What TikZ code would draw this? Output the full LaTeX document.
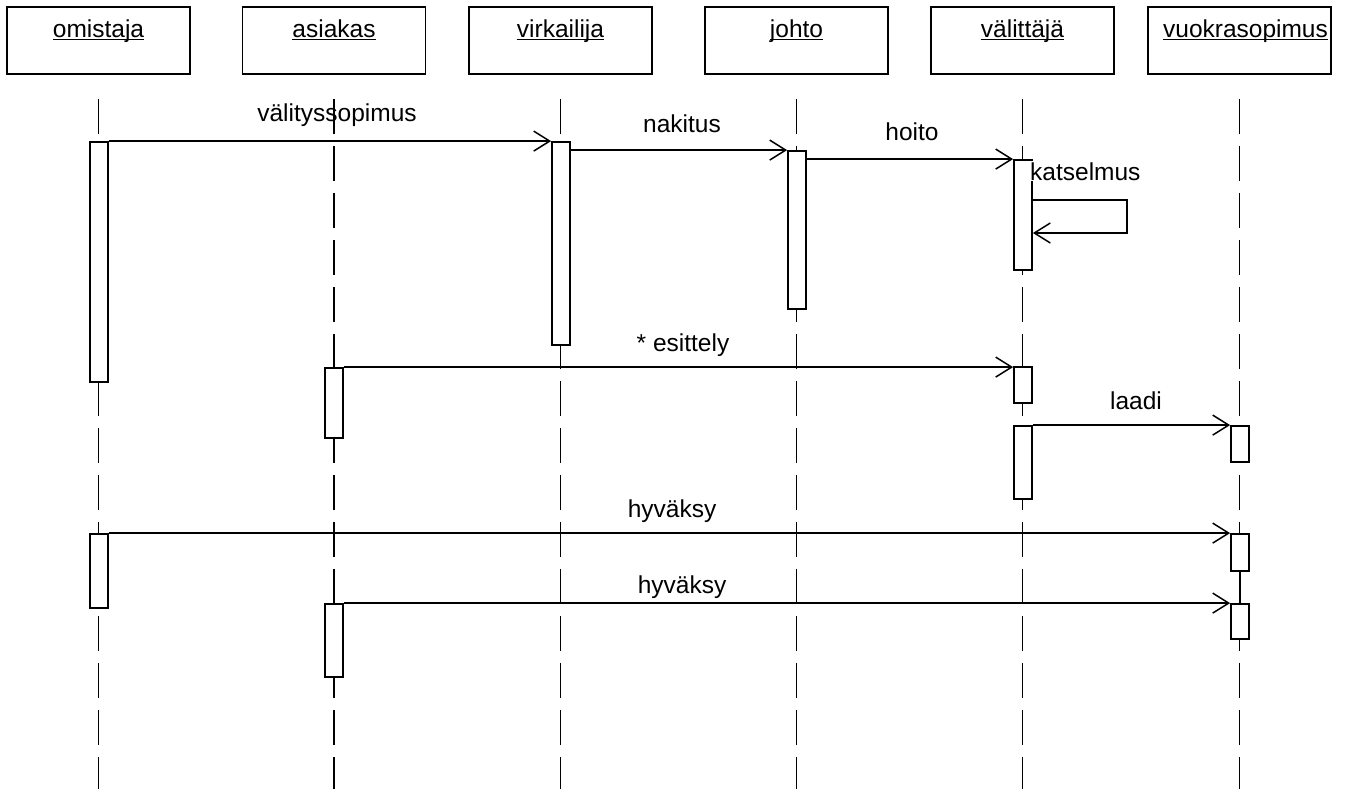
\documentclass[tikz,border=0pt]{standalone}
\usepackage{fontspec}
\setmainfont{Liberation Sans}
\usetikzlibrary{arrows.meta,calc}
\newcommand{\hdrul}[1]{\setbox0\hbox{#1}\rlap{\rule[-2.5pt]{\wd0}{1.4pt}}\box0}
\begin{document}
\begin{tikzpicture}[x=1pt,y=-1pt,
  every node/.style={font=\fontsize{24.5}{29}\selectfont},
  hdr/.style={draw,line width=1.8pt,minimum width=183pt,inner xsep=0pt,inner ysep=0pt,
    text height=30.5pt,text depth=36.5pt,anchor=center},
  lifeline/.style={line width=1.8pt,dash pattern=on 35pt off 12pt},
  act/.style={draw,fill=white,line width=1.8pt,minimum width=18pt,inner sep=0pt},
  msg/.style={line width=1.8pt,-{Straight Barb[length=16pt,width=20pt,line width=1.5pt]}},
  mlab/.style={anchor=base,inner sep=1pt}]
\useasboundingbox (0,0) rectangle (1346,789);
\fill[white] (0,0) rectangle (1346,789);
\coordinate (bot) at (0,789);
% headers
\node[hdr] (omH) at (98.5,40.5) {\hdrul{omistaja}};
\node[hdr] (asH) at (334,40.5) {\hdrul{asiakas}};
\node[hdr] (viH) at (560.5,40.5) {\hdrul{virkailija}};
\node[hdr] (joH) at (796.5,40.5) {\hdrul{johto}};
\node[hdr] (vaH) at (1022.5,40.5) {\hdrul{välittäjä}};
\node[hdr] (vuH) at (1239.5,40.5) {\hspace*{12pt}\hdrul{vuokrasopimus}};
% lifelines
\foreach \h in {omH,asH,viH,joH,vaH,vuH}
  \draw[lifeline] ([yshift=-24pt]\h.south) -- (\h.south |- bot);
% activations
\node[act,minimum height=240pt] (om1) at (99,262) {};
\node[act,minimum height=74pt] (om2) at (99,571) {};
\node[act,minimum height=70pt] (as1) at (334,403) {};
\node[act,minimum height=73pt] (as2) at (334,640.5) {};
\node[act,minimum height=203pt] (vi1) at (561,243.5) {};
\node[act,minimum height=158pt] (jo1) at (797,230) {};
\node[act,minimum height=110pt] (va1) at (1023,215) {};
\node[act,minimum height=36pt] (va2) at (1023,385) {};
\node[act,minimum height=73pt] (va3) at (1023,462.5) {};
\node[act,minimum height=36pt] (vu1) at (1240,444) {};
\node[act,minimum height=37pt] (vu2) at (1240,552.5) {};
\node[act,minimum height=35pt] (vu3) at (1240,621.5) {};
\draw[line width=1.8pt] (vu2.south) -- (vu3.north);
% messages
\draw[msg] (om1.north east) -- (vi1.north west);
\draw[msg] (vi1.east |- jo1.north) -- (jo1.north west);
\draw[msg] (jo1.east |- va1.north) -- (va1.north west);
\coordinate (kA) at (1127,200);
\coordinate (kB) at (1127,233);
\draw[msg] (va1.east |- kA) -- (kA) -- (kB) -- (va1.east |- kB);
\draw[msg] (as1.north east) -- (as1.north east -| va2.west);
\draw[msg] (va3.north east) -- (vu1.north west);
\draw[msg] (om2.north east) -- (vu2.north west);
\draw[msg] (as2.north east) -- (vu3.north west);
% labels
\node[mlab] (l1) at (337,122) {välityssopimus};
\node[mlab] (l2) at (682,132) {nakitus};
\node[mlab] (l3) at (912,141) {hoito};
\node[mlab,anchor=base west,fill=white] (l4) at (1029,180) {katselmus};
\node[mlab] (l5) at (683,351) {* esittely};
\node[mlab] (l6) at (1136,409) {laadi};
\node[mlab] (l7) at (672,517) {hyväksy};
\node[mlab] (l8) at (682,593) {hyväksy};
\end{tikzpicture}
\end{document}
